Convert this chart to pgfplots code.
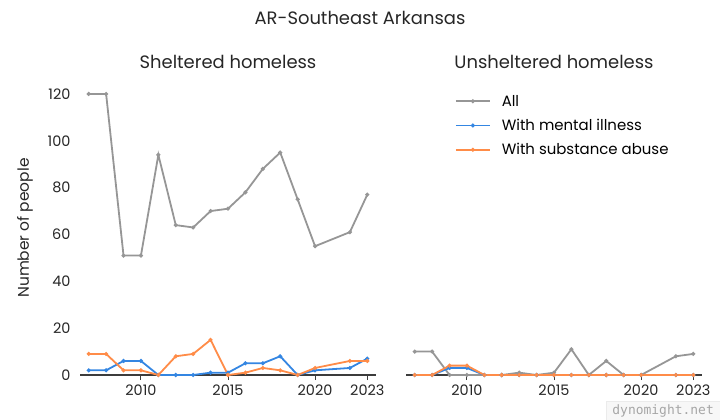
\documentclass[border=0pt]{standalone}
\usepackage{pgfplots}
\usepackage{pgfplotstable}
\pgfplotsset{compat=1.18}
\usepackage{fontspec}
\setmainfont{Poppins}
\newfontfamily\wmfont{DejaVu Sans Mono}
\definecolor{cAll}{RGB}{150,150,150}
\definecolor{cMent}{RGB}{52,134,226}
\definecolor{cSub}{RGB}{255,140,72}
\definecolor{axgray}{RGB}{60,60,60}

\pgfplotstableread{
year all mental subst
2007 120 2 9
2008 120 2 9
2009 51 6 2
2010 51 6 2
2011 94 0 0
2012 64 0 8
2013 63 0 9
2014 70 1 15
2015 71 1 0
2016 78 5 1
2017 88 5 3
2018 95 8 2
2019 75 0 0
2020 55 2 3
2022 61 3 6
2023 77 7 6
}\sheltered

\pgfplotstableread{
year all mental subst
2007 10 0 0
2008 10 0 0
2009 0 3 4
2010 0 3 4
2011 0 0 0
2012 0 0 0
2013 1 0 0
2014 0 0 0
2015 1 0 0
2016 11 0 0
2017 0 0 0
2018 6 0 0
2019 0 0 0
2020 0 0 0
2022 8 0 0
2023 9 0 0
}\unsheltered

\pgfplotsset{
  panel/.style={
    scale only axis, width=296bp, height=290.4bp,
    xmin=2006.5, xmax=2023.5, ymin=0, ymax=124,
    axis x line*=bottom, axis y line*=left,
    y axis line style={draw=none},
    x axis line style={draw=axgray, line width=1.2bp, -},
    xtick={2010,2015,2020,2023},
    ytick={0,20,40,60,80,100,120},
    xtick align=outside, major tick length=5bp,
    xtick style={draw=axgray, line width=1bp},
    ytick style={draw=none},
    /pgf/number format/1000 sep={},
    /pgf/number format/assume math mode=true,
    tick label style={font=\fontsize{14.5}{16}\selectfont, text=black!85},
    xticklabel style={yshift=-1bp},
    clip=false,
    every axis plot/.append style={line width=1.8bp, mark=*, mark size=1bp},
  },
}

\begin{document}
\begin{tikzpicture}
\useasboundingbox (0bp,0bp) rectangle (720bp,420bp);

\begin{axis}[panel, at={(80bp,45bp)}, anchor=south west,
  yticklabel style={xshift=-6bp}]
\addplot[cAll, mark options={fill=cAll}] table[x=year,y=all]{\sheltered};
\addplot[cMent, mark options={fill=cMent}] table[x=year,y=mental]{\sheltered};
\addplot[cSub, mark options={fill=cSub}] table[x=year,y=subst]{\sheltered};
\end{axis}

\begin{axis}[panel, at={(406bp,45bp)}, anchor=south west, yticklabels={},
  legend style={at={(axis cs:2009.3,120.5)}, anchor=north west, draw=none, fill=none,
    font=\fontsize{15}{17}\selectfont, row sep=7.5bp, inner sep=0pt,
    cells={anchor=west}},
  legend image code/.code={
    \draw[#1,mark=none] (0bp,0bp) -- (34bp,0bp);
    \draw[#1] plot coordinates {(17bp,0bp)};
    \path (43bp,0bp);
  }]
\addplot[cAll, mark options={fill=cAll}] table[x=year,y=all]{\unsheltered};
\addplot[cMent, mark options={fill=cMent}] table[x=year,y=mental]{\unsheltered};
\addplot[cSub, mark options={fill=cSub}] table[x=year,y=subst]{\unsheltered};
\legend{All, With mental illness, With substance abuse}
\end{axis}

\node[font=\fontsize{18}{21}\selectfont, text=black!85] at (360bp,402bp) {AR-Southeast Arkansas};
\node[font=\fontsize{18}{21}\selectfont, text=black!85] at (228bp,358bp) {Sheltered homeless};
\node[font=\fontsize{18}{21}\selectfont, text=black!85] at (554bp,358bp) {Unsheltered homeless};
\node[font=\fontsize{15.5}{18}\selectfont, text=black!85, rotate=90] at (25bp,192bp) {Number of people};
\node[anchor=south east, draw=black!8, fill=black!3, text=black!35,
  font=\wmfont\fontsize{13}{15}\selectfont, inner xsep=6bp, inner ysep=3bp] at (720bp,0bp) {dynomight.net};
\end{tikzpicture}
\end{document}
